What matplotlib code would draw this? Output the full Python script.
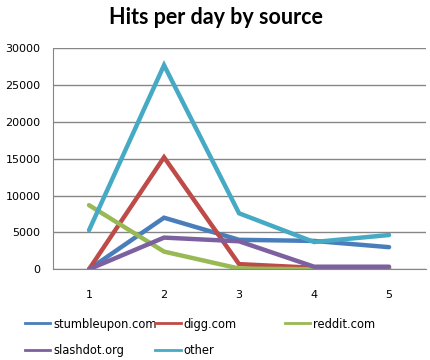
import numpy as np
import matplotlib.pyplot as plt
from matplotlib.lines import Line2D

days = [1, 2, 3, 4, 5]
stumbleupon = [0, 7000, 4000, 3850, 3000]
digg = [0, 15200, 700, 200, 150]
reddit = [8700, 2400, 100, 0, 0]
slashdot = [0, 4300, 3800, 350, 350]
other = [5300, 27700, 7600, 3700, 4650]

names = ['stumbleupon.com', 'digg.com', 'reddit.com', 'slashdot.org', 'other']
colors = ['#4a7ebb', '#be4b48', '#98b954', '#7d60a0', '#46aac5']
series = [stumbleupon, digg, reddit, slashdot, other]

fig = plt.figure(figsize=(4.31, 3.6), dpi=100)
ax = fig.add_axes([0.123, 0.252, 0.865, 0.614])
for vals, c in zip(series, colors):
    ax.plot(days, vals, color=c, lw=3.2, solid_capstyle='round', solid_joinstyle='miter')

ax.set_xlim(0.52, 5.49)
ax.set_ylim(0, 30000)
ax.set_yticks(np.arange(0, 30001, 5000))
ax.set_xticks(days)
ax.grid(axis='y', color='#868686', lw=1)
ax.set_axisbelow(True)
for s in ['top', 'right']:
    ax.spines[s].set_visible(False)
for s in ['left', 'bottom']:
    ax.spines[s].set_color('#868686')
ax.tick_params(length=0, labelsize=8)
ax.tick_params(axis='y', pad=9)
ax.tick_params(axis='x', pad=15)

fig.text(0.5, 0.952, 'Hits per day by source', ha='center', va='center',
         fontsize=15.5, fontweight='bold', family='Lato')

# legend, three fixed columns like Excel
cols = [[0, 3], [1, 4], [2]]
xs = [0.058, 0.36, 0.661]
for col, x in zip(cols, xs):
    handles = [Line2D([], [], color=colors[i], lw=2) for i in col]
    fig.legend(handles, [names[i] for i in col], loc='upper left',
               bbox_to_anchor=(x, 0.118), frameon=False,
               fontsize=8.3, handlelength=2.2, handletextpad=0.25,
               labelspacing=1.15, borderaxespad=0, borderpad=0)

fig.savefig('out.png', dpi=100)
